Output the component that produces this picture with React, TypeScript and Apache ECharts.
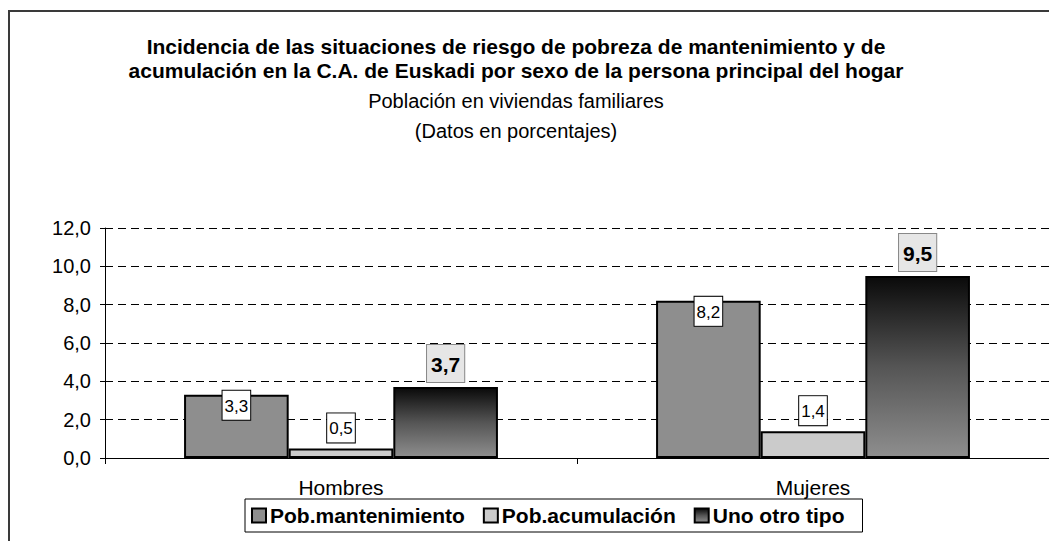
import React, { useEffect, useRef } from "react";
import * as echarts from "echarts";

const categories = ["Hombres", "Mujeres"];
const seriesNames = ["Pob.mantenimiento", "Pob.acumulación", "Uno otro tipo"];
const mantenimiento = [3.3, 8.2];
const acumulacion = [0.5, 1.4];
const otroTipo = [3.7, 9.5];
const yTicks = { min: 0, max: 12, interval: 2 };

const titleLines = [
  "Incidencia de las situaciones de riesgo de pobreza de mantenimiento y de",
  "acumulación en la C.A. de Euskadi por sexo de la persona principal del hogar",
];
const subtitleLines = ["Población en viviendas familiares", "(Datos en porcentajes)"];

const FONT = "Arial, 'Liberation Sans', Helvetica, sans-serif";
const fmt = (v: number) => v.toFixed(1).replace(".", ",");

export default function App() {
  const ref = useRef<HTMLDivElement>(null);
  useEffect(() => {
    if (!ref.current) return;
    const chart = echarts.init(ref.current, null, { renderer: "svg" });
    const gradient = new echarts.graphic.LinearGradient(0, 0, 0, 1, [
      { offset: 0, color: "#0a0a0a" },
      { offset: 0.5, color: "#555555" },
      { offset: 1, color: "#8e8e8e" },
    ]);
    chart.setOption({
      animation: false,
      backgroundColor: "#ffffff",
      graphic: [
        {
          type: "rect",
          shape: { x: 9, y: 11, width: 1200, height: 700 },
          style: { fill: "none", stroke: "#3a3a3a", lineWidth: 2 },
          silent: true,
        },
        ...titleLines.map((t, i) => ({
          type: "text",
          x: 516,
          y: 46 + i * 24,
          style: {
            text: t,
            textAlign: "center",
            textVerticalAlign: "middle",
            font: `bold 21px ${FONT}`,
            fill: "#000",
          },
        })),
        ...subtitleLines.map((t, i) => ({
          type: "text",
          x: 516,
          y: 101 + i * 30,
          style: {
            text: t,
            textAlign: "center",
            textVerticalAlign: "middle",
            font: `20px ${FONT}`,
            fill: "#000",
          },
        })),
      ],
      legend: {
        left: 245,
        top: 499,
        orient: "horizontal",
        data: seriesNames,
        icon: "rect",
        itemWidth: 14,
        itemHeight: 14,
        itemGap: 18,
        padding: [6, 18, 6, 6],
        borderColor: "#000",
        borderWidth: 1,
        textStyle: { fontFamily: FONT, fontWeight: "bold", fontSize: 21, color: "#000", padding: [0, 0, 0, -1] },
      },
      grid: { left: 105, right: -12, top: 228, bottom: 83 },
      xAxis: {
        type: "category",
        data: categories,
        axisLine: { lineStyle: { color: "#000", width: 1 } },
        axisTick: { show: true, length: 6, lineStyle: { color: "#000" } },
        axisLabel: { fontFamily: FONT, fontSize: 21, color: "#000", margin: 19 },
      },
      yAxis: {
        type: "value",
        min: yTicks.min,
        max: yTicks.max,
        interval: yTicks.interval,
        axisLine: { show: true, lineStyle: { color: "#000", width: 1 } },
        axisTick: { show: true, length: 5, lineStyle: { color: "#000" } },
        axisLabel: { fontFamily: FONT, fontSize: 20, color: "#000", margin: 14, formatter: fmt },
        splitLine: { show: true, lineStyle: { color: "#000", type: [8, 5], width: 1 } },
      },
      series: [
        {
          name: seriesNames[0],
          type: "bar",
          data: mantenimiento,
          barGap: "0%",
          barCategoryGap: "33.5%",
          itemStyle: { color: "#8e8e8e", borderColor: "#000", borderWidth: 2 },
          label: {
            show: true,
            position: "insideTop",
            distance: 0,
            offset: [0, -4],
            formatter: (p: any) => fmt(p.value),
            fontFamily: FONT,
            fontSize: 17,
            color: "#000",
            backgroundColor: "#fff",
            borderColor: "#000",
            borderWidth: 1,
            padding: [7, 2, 5, 2],
          },
        },
        {
          name: seriesNames[1],
          type: "bar",
          data: acumulacion,
          itemStyle: { color: "#cbcbcb", borderColor: "#000", borderWidth: 2 },
          label: {
            show: true,
            position: "top",
            distance: 6,
            formatter: (p: any) => fmt(p.value),
            fontFamily: FONT,
            fontSize: 17,
            color: "#000",
            backgroundColor: "#fff",
            borderColor: "#000",
            borderWidth: 1,
            padding: [7, 2, 5, 2],
          },
        },
        {
          name: seriesNames[2],
          type: "bar",
          data: otroTipo,
          itemStyle: { color: gradient, borderColor: "#000", borderWidth: 2 },
          label: {
            show: true,
            position: "top",
            distance: 5,
            formatter: (p: any) => fmt(p.value),
            fontFamily: FONT,
            fontSize: 21,
            fontWeight: "bold",
            color: "#000",
            backgroundColor: "#e6e6e6",
            borderColor: "#888",
            borderWidth: 1,
            padding: [9, 4, 7, 4],
          },
        },
      ],
    });
    return () => chart.dispose();
  }, []);
  return (
    <div
      ref={ref}
      style={{ position: "absolute", left: 0, top: 0, width: 1049, height: 541 }}
    />
  );
}
